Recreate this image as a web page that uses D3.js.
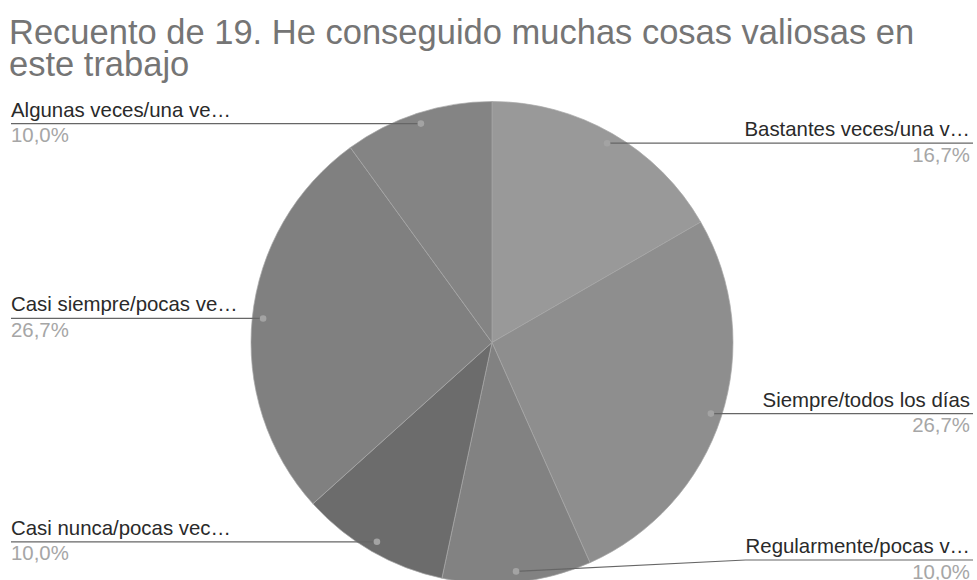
<!DOCTYPE html>
<html>
<head>
<meta charset="utf-8">
<script src="https://cdn.jsdelivr.net/npm/d3@7"></script>
<style>
  html, body { margin: 0; padding: 0; background: #fff; }
  svg { display: block; font-family: "Liberation Sans", Arial, sans-serif; }
</style>
</head>
<body>
<svg id="chart" width="977" height="580"></svg>
<script>
// Survey answers, in slice order (clockwise from 12 o'clock)
const categories = [
  "Bastantes veces/una vez por semana",
  "Siempre/todos los días",
  "Regularmente/pocas veces al mes",
  "Casi nunca/pocas veces al año",
  "Casi siempre/pocas veces por semana",
  "Algunas veces/una vez al mes"
];
const counts = [5, 8, 3, 3, 8, 3];
const sliceColors = ["#999999", "#8e8e8e", "#828282", "#6c6c6c", "#808080", "#848484"];
const shortLabels = [
  "Bastantes veces/una v…",
  "Siempre/todos los días",
  "Regularmente/pocas v…",
  "Casi nunca/pocas vec…",
  "Casi siempre/pocas ve…",
  "Algunas veces/una ve…"
];
const title = ["Recuento de 19. He conseguido muchas cosas valiosas en", "este trabajo"];

const W = 977, H = 580;
const cx = 492, cy = 342.5, R = 241;
const leftX = 11, rightX = 970;
const maxLineY = H - 20;

const svg = d3.select("#chart");

svg.append("g").selectAll("text").data(title).join("text")
  .attr("x", 9).attr("y", (d, i) => 44 + i * 32)
  .attr("font-size", 34.5).attr("fill", "#757575")
  .text(d => d);

const total = d3.sum(counts);
const pie = d3.pie().sort(null).value(d => d)(counts);
const arc = d3.arc().innerRadius(0).outerRadius(R);

const g = svg.append("g").attr("transform", `translate(${cx},${cy})`);
g.selectAll("path").data(pie).join("path")
  .attr("d", arc)
  .attr("fill", (d, i) => sliceColors[i])
  .attr("stroke", "#a8a8a8")
  .attr("stroke-width", 0.7);

const fmt = v => (v * 100).toFixed(1).replace(".", ",") + "%";

const labels = pie.map((d, i) => {
  const a = (d.startAngle + d.endAngle) / 2;
  const dx = cx + Math.sin(a) * R * 0.955;
  const dy = cy - Math.cos(a) * R * 0.955;
  const right = a < Math.PI;
  return {
    i, right, dx, dy,
    lineY: Math.min(dy, maxLineY),
    name: shortLabels[i],
    pct: fmt(counts[i] / total)
  };
});

const lg = svg.append("g");
labels.forEach(l => {
  const t = lg.append("text")
    .attr("x", l.right ? rightX : leftX)
    .attr("y", l.lineY - 7)
    .attr("text-anchor", l.right ? "end" : "start")
    .attr("font-size", 20.4).attr("fill", "#2a2a2a")
    .text(l.name);
  const tw = t.node().getComputedTextLength();
  lg.append("text")
    .attr("x", l.right ? rightX : leftX)
    .attr("y", l.lineY + 18.5)
    .attr("text-anchor", l.right ? "end" : "start")
    .attr("font-size", 20.4).attr("fill", "#a6a6a6")
    .text(l.pct);

  let pts;
  if (l.right) {
    const bendX = Math.max(l.dx, rightX - tw);
    pts = [[l.dx, l.dy], [bendX, l.lineY], [rightX + 3, l.lineY]];
  } else {
    const bendX = Math.min(l.dx, leftX + tw);
    pts = [[l.dx, l.dy], [bendX, l.lineY], [leftX, l.lineY]];
  }
  lg.append("path")
    .attr("d", d3.line()(pts))
    .attr("fill", "none").attr("stroke", "#666").attr("stroke-width", 1.2);
  lg.append("circle")
    .attr("cx", l.dx).attr("cy", l.dy).attr("r", 3.3)
    .attr("fill", "#a3a3a3");
});
</script>
</body>
</html>
